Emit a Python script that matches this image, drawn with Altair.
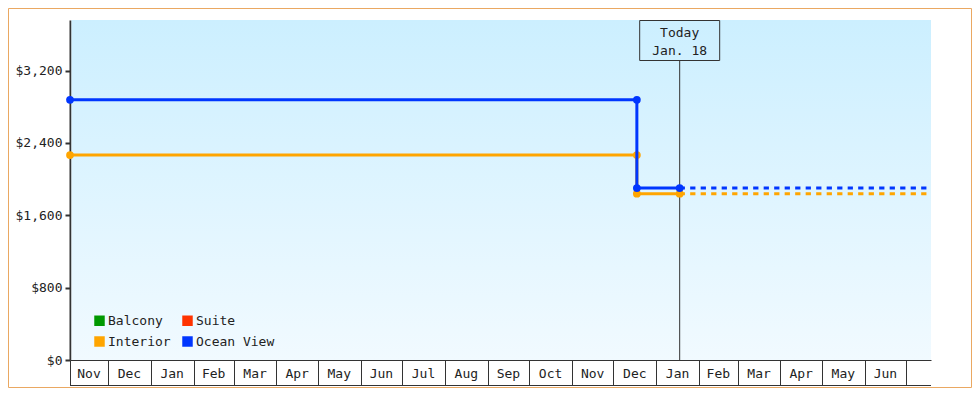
import altair as alt
import pandas as pd

# ---------------- data ----------------
series_names = ["Balcony", "Suite", "Interior", "Ocean View"]
series_colors = ["#009900", "#ff3300", "#ffa500", "#0036ff"]

drawn_series = ["Interior", "Ocean View"]
price_before_drop = [2266, 2877]
price_after_drop = [1839, 1902]

range_start = "2023-11-03T12:00:00"
drop_date = "2024-12-18T00:00:00"
today_date = "2025-01-18T00:00:00"
range_end = "2025-07-19T00:00:00"
today_label = ["Today", "Jan. 18"]

month_labels = ["Nov", "Dec", "Jan", "Feb", "Mar", "Apr", "May", "Jun", "Jul", "Aug",
                "Sep", "Oct", "Nov", "Dec", "Jan", "Feb", "Mar", "Apr", "May", "Jun"]
month_starts = ["2023-11-01T00:00:00", "2023-12-01T00:00:00", "2024-01-01T00:00:00",
                "2024-02-01T00:00:00", "2024-03-01T00:00:00", "2024-04-01T00:00:00",
                "2024-05-01T00:00:00", "2024-06-01T00:00:00", "2024-07-01T00:00:00",
                "2024-08-01T00:00:00", "2024-09-01T00:00:00", "2024-10-01T00:00:00",
                "2024-11-01T00:00:00", "2024-12-01T00:00:00", "2025-01-01T00:00:00",
                "2025-02-01T00:00:00", "2025-03-01T00:00:00", "2025-04-01T00:00:00",
                "2025-05-01T00:00:00", "2025-06-01T00:00:00", "2025-07-01T00:00:00"]

y_ticks = [0, 800, 1600, 2400, 3200]
y_max = 3760

# ---------------- helpers ----------------
FONT = "DejaVu Sans Mono"
INK = "#333333"
TXT = "#222222"
W, H = 861, 340
PAD = {"left": 62, "top": 12, "right": 41, "bottom": 28}


def dt(s):
    t = pd.Timestamp(s)
    return alt.DateTime(year=t.year, month=t.month, date=t.day, hours=t.hour)


xscale = alt.Scale(domain=[dt(range_start), dt(range_end)])
yscale = alt.Scale(domain=[0, y_max], nice=False)
cscale = alt.Scale(domain=series_names, range=series_colors)

tick_dates = [dt(range_start)] + [dt(s) for s in month_starts[1:]]

x_axis = alt.Axis(values=tick_dates, labels=False, grid=False, title=None,
                  domainColor=INK, domainWidth=1, tickColor=INK, tickWidth=1,
                  tickSize=25)
y_axis = alt.Axis(values=y_ticks, format="$,.0f", grid=False, title=None,
                  domainColor=INK, domainWidth=2, tickColor=INK, tickWidth=2,
                  tickSize=5, labelFont=FONT, labelFontSize=13, labelColor=TXT,
                  labelPadding=3)


def X(field):
    return alt.X(field, scale=xscale, axis=x_axis)


def Y(field):
    return alt.Y(field, scale=yscale, axis=y_axis)


# month cells
cells = []
for i, lab in enumerate(month_labels):
    s = max(pd.Timestamp(month_starts[i]), pd.Timestamp(range_start))
    e = min(pd.Timestamp(month_starts[i + 1]), pd.Timestamp(range_end))
    mid = s + (e - s) / 2
    cells.append({"label": lab, "mid": mid.strftime("%Y-%m-%dT%H:%M:%S")})
cells_df = pd.DataFrame(cells)

one = pd.DataFrame({"a": [0]})

# ---------------- layers ----------------
gradient = alt.LinearGradient(
    gradient="linear",
    stops=[alt.GradientStop(color="#ccefff", offset=0),
           alt.GradientStop(color="#f1faff", offset=1)],
    x1=0, x2=0, y1=0, y2=1)

bg = alt.Chart(one).mark_rect(color=gradient).encode(
    x=alt.value(1.5), x2=alt.value(W), y=alt.value(0), y2=alt.value(H))

bottom_rule = alt.Chart(pd.DataFrame({"s": [range_start], "e": [range_end]})).mark_rule(
    color=INK, strokeWidth=1).encode(
    x=X("s:T"), x2="e:T", y=alt.value(H + 25.5))

month_text = alt.Chart(cells_df).mark_text(
    font=FONT, fontSize=13, color=TXT, baseline="alphabetic", align="center").encode(
    x=X("mid:T"), y=alt.value(H + 18), text="label:N")

today_df = pd.DataFrame({"d": [today_date]})
today_rule = alt.Chart(today_df).mark_rule(color=INK, strokeWidth=1).encode(
    x=X("d:T"), y=alt.value(40), y2=alt.value(H))
today_box = alt.Chart(today_df).mark_rect(
    fill="transparent", stroke=INK, strokeWidth=1, xOffset=-40, x2Offset=40).encode(
    x=X("d:T"), x2="d:T", y=alt.value(0.5), y2=alt.value(40.5))
today_txt = alt.Chart(today_df).mark_text(
    font=FONT, fontSize=13, color=TXT, align="center", baseline="alphabetic",
    lineHeight=18).encode(
    x=X("d:T"), y=alt.value(16.5), text=alt.value(today_label))

series_layers = []
for k, name in enumerate(drawn_series):
    b, a = price_before_drop[k], price_after_drop[k]
    solid = pd.DataFrame({
        "series": [name] * 4,
        "date": [range_start, drop_date, drop_date, today_date],
        "price": [b, b, a, a],
        "step": [0, 1, 2, 3],
    })
    dash = pd.DataFrame({
        "series": [name] * 2,
        "date": [today_date, range_end],
        "price": [a, a],
    })
    line = alt.Chart(solid).mark_line(strokeWidth=3).encode(
        x=X("date:T"), y=Y("price:Q"), order="step:Q",
        color=alt.Color("series:N", scale=cscale, legend=None))
    dline = alt.Chart(dash).mark_line(strokeWidth=3, strokeDash=[5.25, 5.25]).encode(
        x=X("date:T"), y=Y("price:Q"),
        color=alt.Color("series:N", scale=cscale, legend=None))
    pts = alt.Chart(solid).mark_point(filled=True, size=60, opacity=1, shape="circle").encode(
        x=X("date:T"), y=Y("price:Q"),
        color=alt.Color("series:N", scale=cscale, legend=None))
    series_layers += [line, dline, pts]

legend_layer = alt.Chart(pd.DataFrame({"series": series_names})).mark_square(
    size=0, filled=True, opacity=1).encode(
    x=alt.value(0), y=alt.value(0),
    color=alt.Color("series:N", scale=cscale, legend=alt.Legend(
        title=None, orient="none", legendX=23, legendY=294, columns=2,
        direction="horizontal",
        symbolType="square", symbolSize=110, symbolStrokeWidth=0,
        labelFont=FONT, labelFontSize=13, labelColor=TXT, labelOffset=2,
        columnPadding=10, rowPadding=7, padding=0)))

# outer frame along the chart's own edges
TOTAL_W = PAD["left"] + W + PAD["right"]
TOTAL_H = PAD["top"] + H + PAD["bottom"]
border = alt.Chart(one).mark_rect(
    fill="transparent", stroke="#eaa862", strokeWidth=1).encode(
    x=alt.value(-PAD["left"] + 0.5), x2=alt.value(TOTAL_W - PAD["left"] - 0.5),
    y=alt.value(-PAD["top"] + 0.5), y2=alt.value(TOTAL_H - PAD["top"] - 0.5))

chart = alt.layer(
    bg, bottom_rule, month_text, today_rule, today_box, today_txt,
    *series_layers, legend_layer, border
).resolve_scale(color="independent").properties(
    width=W, height=H,
    autosize=alt.AutoSizeParams(type="none"),
    padding=PAD,
    background="white",
).configure_view(stroke=None)

chart.save("out.html", embed_options={"renderer": "svg", "actions": False})
